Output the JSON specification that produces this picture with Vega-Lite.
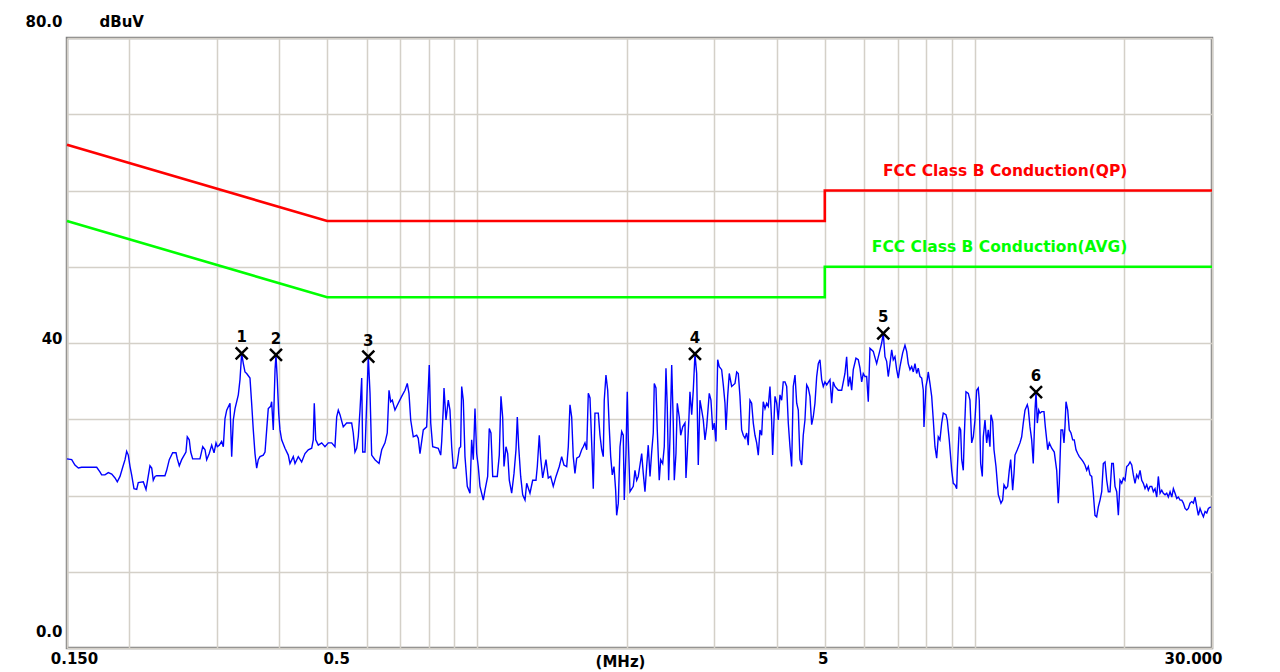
{
  "$schema": "https://vega.github.io/schema/vega-lite/v6.json",
  "width": 1145,
  "height": 610,
  "autosize": {"type": "none"},
  "padding": {"left": 67, "top": 38, "right": 68, "bottom": 24},
  "background": "#ffffff",
  "config": {
    "view": {"stroke": "#808080", "strokeWidth": 2.5},
    "font": "DejaVu Sans",
    "text": {"font": "DejaVu Sans"}
  },
  "datasets": {
    "limits": [
      {"f": 0.15, "v": 66, "lim": "QP", "i": 1},
      {"f": 0.5, "v": 56, "lim": "QP", "i": 2},
      {"f": 5, "v": 56, "lim": "QP", "i": 3},
      {"f": 5, "v": 60, "lim": "QP", "i": 4},
      {"f": 30, "v": 60, "lim": "QP", "i": 5},
      {"f": 0.15, "v": 56, "lim": "AVG", "i": 1},
      {"f": 0.5, "v": 46, "lim": "AVG", "i": 2},
      {"f": 5, "v": 46, "lim": "AVG", "i": 3},
      {"f": 5, "v": 50, "lim": "AVG", "i": 4},
      {"f": 30, "v": 50, "lim": "AVG", "i": 5}
    ],
    "limitLabels": [
      {"f": 20, "v": 60, "lim": "QP", "t": "FCC Class B Conduction(QP)"},
      {"f": 20, "v": 50, "lim": "AVG", "t": "FCC Class B Conduction(AVG)"}
    ],
    "markers": [
      {"f": 0.3366, "v": 38.65, "n": "1"},
      {"f": 0.3945, "v": 38.43, "n": "2"},
      {"f": 0.6048, "v": 38.2, "n": "3"},
      {"f": 2.7421, "v": 38.56, "n": "4"},
      {"f": 6.554, "v": 41.27, "n": "5"},
      {"f": 13.288, "v": 33.57, "n": "6"}
    ],
    "trace": [
{"f":0.150,"v":24.8},{"f":0.1533,"v":24.7},{"f":0.1556,"v":24.0},{"f":0.1581,"v":23.6},{"f":0.1605,"v":23.7},{"f":0.1721,"v":23.7},{"f":0.1747,"v":23.1},{"f":0.1761,"v":22.7},{"f":0.1788,"v":22.7},{"f":0.1816,"v":23.0},{"f":0.1845,"v":22.8},{"f":0.1873,"v":22.3},{"f":0.1893,"v":21.8},{"f":0.1917,"v":22.5},{"f":0.1941,"v":23.7},{"f":0.1962,"v":24.7},{"f":0.1977,"v":25.8},{"f":0.1992,"v":25.3},{"f":0.2008,"v":23.8},{"f":0.2023,"v":22.7},{"f":0.2045,"v":20.9},{"f":0.2071,"v":20.8},{"f":0.2086,"v":21.7},{"f":0.2135,"v":21.8},{"f":0.2162,"v":20.8},{"f":0.2175,"v":21.8},{"f":0.2202,"v":23.9},{"f":0.2220,"v":23.6},{"f":0.2236,"v":22.0},{"f":0.2254,"v":22.5},{"f":0.2271,"v":22.6},{"f":0.2360,"v":22.6},{"f":0.2379,"v":23.3},{"f":0.2408,"v":24.7},{"f":0.2446,"v":25.6},{"f":0.2484,"v":25.6},{"f":0.2499,"v":24.8},{"f":0.2522,"v":23.9},{"f":0.2550,"v":24.7},{"f":0.2601,"v":25.7},{"f":0.2617,"v":27.7},{"f":0.2641,"v":27.3},{"f":0.2659,"v":25.7},{"f":0.2683,"v":24.8},{"f":0.2775,"v":24.8},{"f":0.2811,"v":26.4},{"f":0.2841,"v":26.0},{"f":0.2863,"v":24.7},{"f":0.2897,"v":25.5},{"f":0.2930,"v":26.6},{"f":0.2962,"v":25.6},{"f":0.2989,"v":26.9},{"f":0.3007,"v":26.4},{"f":0.3035,"v":26.6},{"f":0.3068,"v":27.1},{"f":0.3092,"v":26.4},{"f":0.3116,"v":30.1},{"f":0.3141,"v":31.2},{"f":0.3189,"v":32.1},{"f":0.3214,"v":25.1},{"f":0.3238,"v":29.9},{"f":0.3264,"v":31.4},{"f":0.3314,"v":33.2},{"f":0.3340,"v":35.2},{"f":0.3366,"v":38.65},{"f":0.3392,"v":37.3},{"f":0.3418,"v":36.2},{"f":0.3445,"v":36.0},{"f":0.3498,"v":35.4},{"f":0.3525,"v":32.1},{"f":0.3552,"v":28.6},{"f":0.3580,"v":25.5},{"f":0.3608,"v":23.6},{"f":0.3635,"v":24.7},{"f":0.3664,"v":25.1},{"f":0.3720,"v":25.3},{"f":0.3750,"v":25.7},{"f":0.3779,"v":28.6},{"f":0.3807,"v":31.4},{"f":0.3849,"v":31.7},{"f":0.3867,"v":32.3},{"f":0.3896,"v":28.6},{"f":0.3928,"v":36.5},{"f":0.3945,"v":38.43},{"f":0.3969,"v":35.2},{"f":0.3995,"v":30.8},{"f":0.4019,"v":28.6},{"f":0.4050,"v":27.3},{"f":0.4113,"v":26.2},{"f":0.4176,"v":25.3},{"f":0.4209,"v":24.2},{"f":0.4274,"v":25.1},{"f":0.4308,"v":24.2},{"f":0.4374,"v":25.1},{"f":0.4443,"v":24.4},{"f":0.4512,"v":25.5},{"f":0.4581,"v":26.0},{"f":0.4654,"v":26.2},{"f":0.4688,"v":27.3},{"f":0.4710,"v":32.1},{"f":0.4742,"v":27.3},{"f":0.4798,"v":26.6},{"f":0.4874,"v":26.9},{"f":0.4949,"v":26.4},{"f":0.5026,"v":26.9},{"f":0.5105,"v":26.9},{"f":0.5183,"v":26.4},{"f":0.5225,"v":30.3},{"f":0.5264,"v":31.2},{"f":0.5305,"v":30.6},{"f":0.5386,"v":29.0},{"f":0.5471,"v":29.5},{"f":0.5600,"v":29.5},{"f":0.5641,"v":28.2},{"f":0.5686,"v":25.7},{"f":0.5731,"v":26.2},{"f":0.5774,"v":27.7},{"f":0.5820,"v":31.2},{"f":0.5866,"v":35.4},{"f":0.5893,"v":25.7},{"f":0.5956,"v":25.7},{"f":0.6002,"v":32.1},{"f":0.6048,"v":38.2},{"f":0.6096,"v":33.4},{"f":0.6143,"v":25.3},{"f":0.6238,"v":24.7},{"f":0.6355,"v":24.2},{"f":0.6435,"v":26.0},{"f":0.6533,"v":26.9},{"f":0.6602,"v":28.2},{"f":0.6656,"v":33.8},{"f":0.6708,"v":32.3},{"f":0.6758,"v":32.5},{"f":0.6842,"v":31.2},{"f":0.6947,"v":32.1},{"f":0.7058,"v":33.0},{"f":0.7167,"v":33.8},{"f":0.7243,"v":34.7},{"f":0.7300,"v":33.4},{"f":0.7359,"v":29.9},{"f":0.7447,"v":27.7},{"f":0.7565,"v":27.9},{"f":0.7621,"v":27.5},{"f":0.7682,"v":25.5},{"f":0.7800,"v":28.6},{"f":0.7923,"v":29.0},{"f":0.8019,"v":37.1},{"f":0.8073,"v":29.5},{"f":0.8147,"v":26.4},{"f":0.8360,"v":26.2},{"f":0.8455,"v":25.3},{"f":0.8494,"v":27.1},{"f":0.8557,"v":31.4},{"f":0.8585,"v":34.1},{"f":0.8664,"v":29.9},{"f":0.8756,"v":32.5},{"f":0.8825,"v":31.2},{"f":0.8896,"v":26.4},{"f":0.8962,"v":23.6},{"f":0.9074,"v":23.6},{"f":0.9128,"v":24.2},{"f":0.9213,"v":26.2},{"f":0.9272,"v":26.4},{"f":0.9317,"v":34.3},{"f":0.9387,"v":32.5},{"f":0.9460,"v":25.1},{"f":0.9561,"v":21.2},{"f":0.9681,"v":20.3},{"f":0.9756,"v":27.3},{"f":0.9831,"v":24.7},{"f":0.9908,"v":31.4},{"f":0.9986,"v":25.5},{"f":1.0060,"v":23.8},{"f":1.0139,"v":21.2},{"f":1.0297,"v":19.4},{"f":1.0378,"v":20.7},{"f":1.0507,"v":22.5},{"f":1.0585,"v":28.8},{"f":1.0668,"v":28.2},{"f":1.0755,"v":22.5},{"f":1.0985,"v":22.5},{"f":1.1087,"v":25.3},{"f":1.1174,"v":33.0},{"f":1.1262,"v":30.3},{"f":1.1332,"v":23.8},{"f":1.1437,"v":26.4},{"f":1.1527,"v":25.5},{"f":1.1613,"v":22.0},{"f":1.1741,"v":20.3},{"f":1.1869,"v":22.9},{"f":1.1978,"v":26.0},{"f":1.2051,"v":30.3},{"f":1.2129,"v":26.4},{"f":1.2241,"v":22.5},{"f":1.2355,"v":20.1},{"f":1.2489,"v":19.4},{"f":1.2586,"v":21.6},{"f":1.2779,"v":20.3},{"f":1.2939,"v":22.0},{"f":1.3140,"v":22.0},{"f":1.3220,"v":23.8},{"f":1.3341,"v":27.9},{"f":1.3428,"v":24.9},{"f":1.3552,"v":22.3},{"f":1.3762,"v":24.7},{"f":1.3909,"v":22.3},{"f":1.4063,"v":22.5},{"f":1.4233,"v":21.2},{"f":1.4415,"v":22.5},{"f":1.4635,"v":23.8},{"f":1.4798,"v":25.1},{"f":1.4955,"v":24.0},{"f":1.5147,"v":23.8},{"f":1.5259,"v":26.4},{"f":1.5378,"v":31.9},{"f":1.5499,"v":30.3},{"f":1.5613,"v":25.1},{"f":1.5736,"v":22.9},{"f":1.5864,"v":24.9},{"f":1.6055,"v":25.1},{"f":1.6233,"v":26.0},{"f":1.6353,"v":26.4},{"f":1.6482,"v":26.9},{"f":1.6616,"v":26.0},{"f":1.6739,"v":33.4},{"f":1.6870,"v":32.8},{"f":1.7002,"v":26.9},{"f":1.7128,"v":20.9},{"f":1.7262,"v":30.8},{"f":1.7531,"v":30.8},{"f":1.7668,"v":27.9},{"f":1.7808,"v":26.0},{"f":1.7939,"v":25.1},{"f":1.8021,"v":32.5},{"f":1.8164,"v":35.8},{"f":1.8310,"v":33.8},{"f":1.8446,"v":28.8},{"f":1.8565,"v":25.1},{"f":1.8703,"v":22.7},{"f":1.8850,"v":23.8},{"f":1.8997,"v":20.7},{"f":1.9086,"v":17.4},{"f":1.9232,"v":19.0},{"f":1.9383,"v":26.4},{"f":1.9534,"v":28.4},{"f":1.9679,"v":27.9},{"f":1.9769,"v":19.4},{"f":1.9925,"v":25.5},{"f":2.0045,"v":33.6},{"f":2.0142,"v":27.3},{"f":2.0300,"v":20.5},{"f":2.0611,"v":21.2},{"f":2.0772,"v":23.3},{"f":2.0937,"v":22.0},{"f":2.1091,"v":22.5},{"f":2.1261,"v":24.0},{"f":2.1429,"v":25.5},{"f":2.1587,"v":22.9},{"f":2.1756,"v":20.5},{"f":2.1928,"v":23.8},{"f":2.2090,"v":26.6},{"f":2.2270,"v":22.5},{"f":2.2444,"v":25.7},{"f":2.2609,"v":28.2},{"f":2.2714,"v":34.7},{"f":2.2893,"v":34.1},{"f":2.3030,"v":28.6},{"f":2.3243,"v":22.0},{"f":2.3399,"v":24.7},{"f":2.3615,"v":24.2},{"f":2.3789,"v":26.4},{"f":2.3977,"v":36.7},{"f":2.4120,"v":31.7},{"f":2.4276,"v":22.0},{"f":2.4429,"v":27.7},{"f":2.4621,"v":37.1},{"f":2.4802,"v":29.5},{"f":2.4918,"v":22.0},{"f":2.5113,"v":25.5},{"f":2.5265,"v":32.1},{"f":2.5498,"v":30.3},{"f":2.5669,"v":27.9},{"f":2.5907,"v":29.0},{"f":2.6182,"v":29.5},{"f":2.6303,"v":22.3},{"f":2.6461,"v":25.5},{"f":2.6669,"v":30.3},{"f":2.6792,"v":33.6},{"f":2.7009,"v":30.6},{"f":2.7208,"v":33.8},{"f":2.7421,"v":38.56},{"f":2.7638,"v":36.0},{"f":2.7842,"v":24.0},{"f":2.8060,"v":32.5},{"f":2.8288,"v":31.2},{"f":2.8497,"v":29.9},{"f":2.8722,"v":27.3},{"f":2.8947,"v":29.0},{"f":2.9296,"v":33.4},{"f":2.9526,"v":32.5},{"f":2.9766,"v":28.6},{"f":2.9984,"v":29.5},{"f":3.0221,"v":27.1},{"f":3.0460,"v":37.8},{"f":3.0683,"v":36.9},{"f":3.1024,"v":36.5},{"f":3.1261,"v":34.5},{"f":3.1506,"v":32.1},{"f":3.1652,"v":28.6},{"f":3.1901,"v":33.0},{"f":3.2138,"v":36.0},{"f":3.2495,"v":34.3},{"f":3.3000,"v":34.7},{"f":3.3259,"v":36.2},{"f":3.3504,"v":36.0},{"f":3.3769,"v":33.0},{"f":3.4033,"v":28.6},{"f":3.4291,"v":27.9},{"f":3.4562,"v":27.5},{"f":3.4834,"v":28.2},{"f":3.5090,"v":26.6},{"f":3.5367,"v":32.5},{"f":3.5644,"v":32.1},{"f":3.5917,"v":29.5},{"f":3.6198,"v":27.9},{"f":3.6483,"v":26.9},{"f":3.6755,"v":25.3},{"f":3.7041,"v":28.6},{"f":3.7332,"v":27.9},{"f":3.7611,"v":32.3},{"f":3.7916,"v":31.4},{"f":3.8213,"v":32.1},{"f":3.8494,"v":31.7},{"f":3.8798,"v":34.3},{"f":3.9103,"v":29.7},{"f":3.9282,"v":25.3},{"f":3.9527,"v":29.9},{"f":3.9710,"v":33.0},{"f":4.0022,"v":32.1},{"f":4.0317,"v":29.9},{"f":4.0635,"v":33.2},{"f":4.0954,"v":32.5},{"f":4.1255,"v":34.9},{"f":4.1593,"v":34.9},{"f":4.1916,"v":34.3},{"f":4.2229,"v":29.5},{"f":4.2562,"v":26.4},{"f":4.2893,"v":23.8},{"f":4.3213,"v":34.3},{"f":4.3562,"v":35.8},{"f":4.3905,"v":32.1},{"f":4.4228,"v":31.2},{"f":4.4577,"v":24.7},{"f":4.4927,"v":24.0},{"f":4.5258,"v":27.9},{"f":4.5615,"v":29.9},{"f":4.5983,"v":34.5},{"f":4.6322,"v":34.1},{"f":4.6687,"v":33.0},{"f":4.7055,"v":29.3},{"f":4.7401,"v":30.3},{"f":4.7775,"v":32.1},{"f":4.8160,"v":35.6},{"f":4.8519,"v":37.3},{"f":4.8897,"v":37.8},{"f":4.9282,"v":35.2},{"f":4.9649,"v":34.3},{"f":5.0036,"v":34.9},{"f":5.0445,"v":34.5},{"f":5.1217,"v":35.2},{"f":5.1619,"v":32.1},{"f":5.1999,"v":34.9},{"f":5.2409,"v":34.3},{"f":5.3221,"v":33.8},{"f":5.4063,"v":33.8},{"f":5.4890,"v":36.0},{"f":5.5322,"v":38.2},{"f":5.5745,"v":34.3},{"f":5.6185,"v":35.6},{"f":5.6622,"v":33.8},{"f":5.7044,"v":36.5},{"f":5.7757,"v":38.0},{"f":5.8384,"v":37.8},{"f":5.8845,"v":36.7},{"f":5.9308,"v":34.9},{"f":5.9744,"v":36.0},{"f":6.0215,"v":35.6},{"f":6.0690,"v":35.6},{"f":6.1148,"v":32.3},{"f":6.1630,"v":39.3},{"f":6.2573,"v":38.9},{"f":6.3563,"v":37.3},{"f":6.4345,"v":38.7},{"f":6.5056,"v":40.0},{"f":6.5540,"v":41.27},{"f":6.6056,"v":38.2},{"f":6.6571,"v":37.6},{"f":6.7067,"v":35.6},{"f":6.7608,"v":37.3},{"f":6.8142,"v":39.1},{"f":6.8642,"v":37.8},{"f":6.9183,"v":38.2},{"f":6.9730,"v":36.5},{"f":7.0241,"v":35.4},{"f":7.0811,"v":36.9},{"f":7.1694,"v":38.7},{"f":7.2461,"v":39.7},{"f":7.3031,"v":38.9},{"f":7.3567,"v":37.3},{"f":7.4165,"v":36.5},{"f":7.4746,"v":36.9},{"f":7.5302,"v":36.2},{"f":7.5893,"v":37.3},{"f":7.6488,"v":36.0},{"f":7.7057,"v":36.7},{"f":7.7679,"v":35.6},{"f":7.8293,"v":35.4},{"f":7.8867,"v":33.8},{"f":7.9123,"v":29.0},{"f":7.9854,"v":34.3},{"f":8.0339,"v":35.2},{"f":8.0704,"v":36.2},{"f":8.1340,"v":34.7},{"f":8.1998,"v":33.0},{"f":8.2608,"v":29.9},{"f":8.3251,"v":26.4},{"f":8.3908,"v":24.9},{"f":8.4532,"v":27.7},{"f":8.5191,"v":27.3},{"f":8.5880,"v":29.5},{"f":8.6518,"v":30.8},{"f":8.7601,"v":30.6},{"f":8.8124,"v":29.9},{"f":8.8942,"v":27.3},{"f":8.9954,"v":23.3},{"f":9.0613,"v":21.6},{"f":9.1327,"v":21.4},{"f":9.2049,"v":20.9},{"f":9.2295,"v":23.3},{"f":9.3153,"v":29.0},{"f":9.3754,"v":28.6},{"f":9.4212,"v":24.7},{"f":9.4912,"v":23.3},{"f":9.5341,"v":27.7},{"f":9.6091,"v":33.6},{"f":9.7142,"v":33.4},{"f":9.7880,"v":32.5},{"f":9.8672,"v":26.9},{"f":9.9405,"v":27.7},{"f":10.018,"v":29.9},{"f":10.097,"v":33.8},{"f":10.172,"v":34.1},{"f":10.219,"v":32.5},{"f":10.285,"v":24.2},{"f":10.363,"v":22.5},{"f":10.411,"v":27.7},{"f":10.493,"v":29.9},{"f":10.576,"v":26.9},{"f":10.654,"v":28.6},{"f":10.736,"v":26.4},{"f":10.787,"v":30.6},{"f":10.874,"v":29.7},{"f":10.940,"v":26.0},{"f":11.041,"v":23.8},{"f":11.159,"v":20.1},{"f":11.298,"v":19.0},{"f":11.387,"v":19.4},{"f":11.458,"v":21.4},{"f":11.564,"v":20.9},{"f":11.655,"v":21.2},{"f":11.742,"v":23.3},{"f":11.818,"v":24.7},{"f":11.927,"v":20.7},{"f":12.001,"v":22.9},{"f":12.056,"v":25.3},{"f":12.185,"v":26.0},{"f":12.338,"v":26.9},{"f":12.435,"v":27.7},{"f":12.527,"v":29.5},{"f":12.627,"v":31.2},{"f":12.762,"v":31.9},{"f":12.821,"v":31.4},{"f":12.922,"v":29.0},{"f":13.024,"v":27.3},{"f":13.120,"v":24.2},{"f":13.227,"v":31.2},{"f":13.288,"v":33.57},{"f":13.368,"v":29.5},{"f":13.454,"v":31.2},{"f":13.535,"v":30.8},{"f":13.642,"v":31.0},{"f":13.787,"v":31.0},{"f":13.873,"v":29.0},{"f":13.963,"v":27.3},{"f":14.027,"v":26.0},{"f":14.131,"v":26.9},{"f":14.288,"v":26.2},{"f":14.460,"v":25.7},{"f":14.622,"v":23.3},{"f":14.731,"v":19.0},{"f":14.799,"v":21.6},{"f":14.915,"v":28.6},{"f":15.033,"v":28.6},{"f":15.124,"v":26.9},{"f":15.193,"v":29.0},{"f":15.267,"v":32.3},{"f":15.387,"v":31.2},{"f":15.500,"v":28.6},{"f":15.623,"v":28.2},{"f":15.746,"v":27.3},{"f":15.860,"v":27.3},{"f":15.989,"v":26.0},{"f":16.114,"v":25.5},{"f":16.234,"v":25.1},{"f":16.415,"v":24.7},{"f":16.536,"v":24.4},{"f":16.666,"v":24.0},{"f":16.801,"v":23.3},{"f":16.926,"v":23.8},{"f":17.059,"v":22.7},{"f":17.194,"v":22.5},{"f":17.321,"v":20.3},{"f":17.457,"v":17.4},{"f":17.595,"v":17.2},{"f":17.729,"v":18.5},{"f":17.869,"v":19.4},{"f":18.009,"v":20.5},{"f":18.143,"v":24.2},{"f":18.286,"v":24.4},{"f":18.430,"v":22.0},{"f":18.570,"v":20.5},{"f":18.716,"v":20.5},{"f":18.863,"v":24.2},{"f":19.003,"v":24.2},{"f":19.152,"v":21.2},{"f":19.303,"v":20.5},{"f":19.450,"v":17.4},{"f":19.603,"v":22.0},{"f":19.757,"v":21.6},{"f":19.903,"v":22.3},{"f":20.059,"v":22.0},{"f":20.217,"v":23.8},{"f":20.371,"v":24.0},{"f":20.531,"v":24.4},{"f":20.693,"v":24.0},{"f":20.846,"v":22.7},{"f":21.010,"v":21.6},{"f":21.175,"v":22.7},{"f":21.332,"v":22.3},{"f":21.504,"v":23.3},{"f":21.673,"v":22.0},{"f":21.834,"v":21.6},{"f":22.006,"v":20.9},{"f":22.179,"v":21.4},{"f":22.343,"v":20.7},{"f":22.524,"v":21.2},{"f":22.701,"v":21.2},{"f":22.869,"v":20.5},{"f":23.049,"v":20.9},{"f":23.230,"v":19.8},{"f":23.402,"v":22.5},{"f":23.591,"v":20.3},{"f":23.777,"v":20.7},{"f":23.953,"v":20.3},{"f":24.141,"v":20.1},{"f":24.331,"v":20.3},{"f":24.511,"v":19.8},{"f":24.710,"v":20.5},{"f":24.905,"v":19.8},{"f":25.089,"v":20.9},{"f":25.286,"v":20.3},{"f":25.485,"v":19.6},{"f":25.674,"v":19.8},{"f":25.882,"v":19.4},{"f":26.085,"v":19.4},{"f":26.278,"v":19.0},{"f":26.485,"v":18.3},{"f":26.693,"v":18.1},{"f":26.891,"v":18.3},{"f":27.102,"v":19.0},{"f":27.315,"v":19.2},{"f":27.523,"v":19.0},{"f":27.739,"v":19.8},{"f":27.957,"v":18.5},{"f":28.164,"v":17.4},{"f":28.386,"v":18.3},{"f":28.609,"v":17.7},{"f":28.828,"v":17.2},{"f":29.054,"v":17.9},{"f":29.283,"v":17.7},{"f":29.500,"v":18.3},{"f":29.828,"v":18.5}
    ]
  },
  "encoding": {
    "x": {
      "field": "f",
      "type": "quantitative",
      "scale": {"type": "log", "domain": [0.15, 30], "nice": false},
      "axis": {
        "values": [0.15, 0.2, 0.3, 0.4, 0.5, 0.6, 0.7, 0.8, 0.9, 1, 2, 3, 4, 5, 6, 7, 8, 9, 10, 20, 30],
        "labelExpr": "datum.value == 0.15 ? '0.150' : datum.value == 0.5 ? '0.5' : datum.value == 5 ? '5' : datum.value == 30 ? '30.000' : ''",
        "grid": true,
        "gridColor": "#d4d0c8",
        "gridWidth": 1.5,
        "gridOpacity": 1,
        "domain": false,
        "ticks": false,
        "tickSize": 0,
        "labelOverlap": false,
        "labelFlush": false,
        "labelBound": false,
        "labelFont": "DejaVu Sans",
        "labelFontWeight": "bold",
        "labelFontSize": 15,
        "labelColor": "#000000",
        "labelPadding": 3,
        "labelAlign": {"condition": {"test": "datum.value == 30", "value": "right"}, "value": "center"},
        "labelOffset": {"condition": [
          {"test": "datum.value == 0.15", "value": 7},
          {"test": "datum.value == 0.5", "value": 9},
          {"test": "datum.value == 5", "value": -2},
          {"test": "datum.value == 30", "value": 10}
        ], "value": 0},
        "title": "(MHz)",
        "titleFont": "DejaVu Sans",
        "titleFontWeight": "bold",
        "titleFontSize": 15,
        "titleColor": "#000000",
        "titleX": 553,
        "titleY": 13,
        "titleAlign": "center",
        "titleBaseline": "middle",
        "titleAngle": 0
      }
    },
    "y": {
      "field": "v",
      "type": "quantitative",
      "scale": {"domain": [0, 80], "nice": false, "zero": false},
      "axis": {
        "values": [0, 10, 20, 30, 40, 50, 60, 70, 80],
        "labelExpr": "datum.value == 0 ? '0.0' : datum.value == 40 ? '40' : datum.value == 80 ? '80.0' : ''",
        "grid": true,
        "gridColor": "#d4d0c8",
        "gridWidth": 1.5,
        "gridOpacity": 1,
        "domain": false,
        "ticks": false,
        "tickSize": 0,
        "labelOverlap": false,
        "labelFlush": false,
        "labelBound": false,
        "labelFont": "DejaVu Sans",
        "labelFontWeight": "bold",
        "labelFontSize": 15,
        "labelColor": "#000000",
        "labelPadding": 5,
        "labelBaseline": "middle",
        "labelOffset": {"condition": {"test": "datum.value == 40", "value": -5}, "value": -17},
        "title": "dBuV",
        "titleFont": "DejaVu Sans",
        "titleFontWeight": "bold",
        "titleFontSize": 15,
        "titleColor": "#000000",
        "titleX": 32,
        "titleY": -17,
        "titleAlign": "left",
        "titleBaseline": "middle",
        "titleAngle": 0
      }
    }
  },
  "layer": [
    {
      "data": {"name": "limits"},
      "mark": {"type": "line", "strokeWidth": 2.6, "interpolate": "linear"},
      "encoding": {
        "color": {"field": "lim", "type": "nominal", "scale": {"domain": ["QP", "AVG"], "range": ["#ff0000", "#00ff00"]}, "legend": null},
        "order": {"field": "i", "type": "quantitative"}
      }
    },
    {
      "data": {"name": "trace"},
      "mark": {"type": "line", "color": "#0000ff", "strokeWidth": 1.4, "interpolate": "linear"},
      "encoding": {}
    },
    {
      "data": {"name": "markers"},
      "mark": {"type": "point", "shape": "M-1,-1L1,1M-1,1L1,-1", "size": 144, "filled": false, "stroke": "#000000", "strokeWidth": 2.5, "opacity": 1}
    },
    {
      "data": {"name": "markers"},
      "mark": {"type": "text", "dy": -16, "font": "DejaVu Sans", "fontWeight": "bold", "fontSize": 15, "color": "#000000", "baseline": "middle", "align": "center"},
      "encoding": {"text": {"field": "n"}}
    },
    {
      "data": {"name": "limitLabels"},
      "mark": {"type": "text", "dx": 3, "dy": -20, "font": "DejaVu Sans", "fontWeight": "bold", "fontSize": 15.5, "baseline": "middle", "align": "right"},
      "encoding": {
        "text": {"field": "t"},
        "color": {"field": "lim", "type": "nominal", "scale": {"domain": ["QP", "AVG"], "range": ["#ff0000", "#00ff00"]}, "legend": null}
      }
    }
  ]
}
